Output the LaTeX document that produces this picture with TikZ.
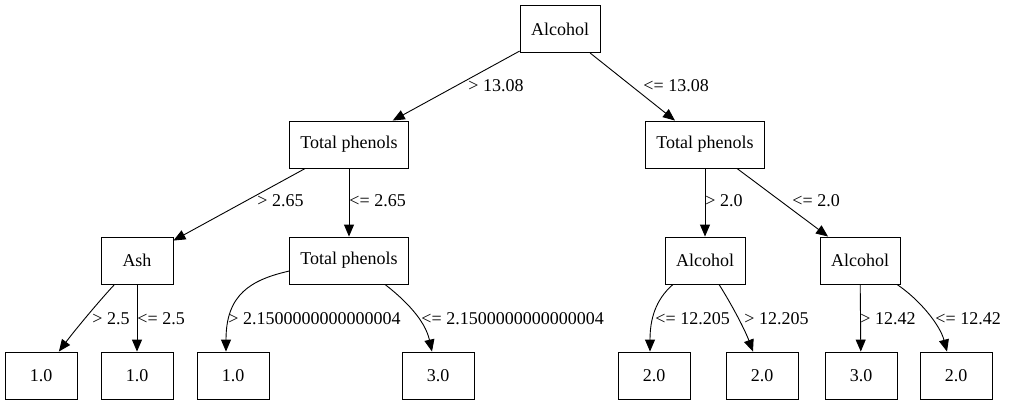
\documentclass[tikz,border=0pt]{standalone}
\usepackage{fontspec}
\setmainfont{Liberation Serif}
\usetikzlibrary{arrows.meta}
\begin{document}
\begin{tikzpicture}[x=1pt, y=-1pt, line width=0.9pt, font=\fontsize{18}{20}\selectfont,
    main/.style = {draw, rectangle, minimum width=72pt, minimum height=47pt, inner xsep=11pt},
    lbl/.style = {anchor=west, inner sep=0pt},
    >={Triangle[length=12pt, width=10pt]}]
    \useasboundingbox (0,0) rectangle (1011,407);
    \node[main] (1) at (560,29) {Alcohol};
    \node[main] (2) at (349,144.5) {Total phenols};
    \node[main] (3) at (705,144.5) {Total phenols};
    \node[main] (4) at (137,260.5) {Ash};
    \node[main] (5) at (349,260.5) {Total phenols};
    \node[main] (6) at (705,260.5) {Alcohol};
    \node[main] (7) at (860,260.5) {Alcohol};
    \node[main] (8) at (41,375.5) {1.0};
    \node[main] (9) at (137,375.5) {1.0};
    \node[main] (10) at (233,375.5) {1.0};
    \node[main] (11) at (438,375.5) {3.0};
    \node[main] (12) at (654,375.5) {2.0};
    \node[main] (13) at (762,375.5) {2.0};
    \node[main] (14) at (861,375.5) {3.0};
    \node[main] (15) at (956,375.5) {2.0};
    %Splits
    \draw[->] (1) -- (2);
    \draw[->] (1) -- (3);
    \draw[->] (2) -- (4);
    \draw[->] (2) -- (5);
    \draw[->] (3) -- (6);
    \draw[->] (3) -- (7);
    \draw[->] (4) .. controls (100,300) and (75,330) .. (8);
    \draw[->] (4) -- (9);
    \draw[->] (5.190) .. controls (250,280) and (226,295) .. ([xshift=-7pt]10.north);
    \draw[->] ([xshift=36pt]5.south) .. controls (405,300) and (425,320) .. ([xshift=-6pt]11.north);
    \draw[->] ([xshift=-32pt]6.south) .. controls (655,300) and (650,320) .. ([xshift=-4pt]12.north);
    \draw[->] ([xshift=14pt]6.south) .. controls (732,305) and (745,330) .. ([xshift=-9pt]13.north);
    \draw[->] (7) -- (14);
    \draw[->] ([xshift=37pt]7.south) .. controls (920,300) and (940,325) .. ([xshift=-9pt]15.north);
    %Labels
    \node[lbl] (l1) at (468,86) {> 13.08};
    \node[lbl] (l2) at (643,86) {<= 13.08};
    \node[lbl] (l3) at (257,201) {> 2.65};
    \node[lbl] (l4) at (349,201) {<= 2.65};
    \node[lbl] (l5) at (705,201) {> 2.0};
    \node[lbl] (l6) at (792,201) {<= 2.0};
    \node[lbl] (l7) at (92,319) {> 2.5};
    \node[lbl] (l8) at (137,319) {<= 2.5};
    \node[lbl] (l9) at (228,319) {> 2.1500000000000004};
    \node[lbl] (l10) at (421,319) {<= 2.1500000000000004};
    \node[lbl] (l11) at (655,319) {<= 12.205};
    \node[lbl] (l12) at (744,319) {> 12.205};
    \node[lbl] (l13) at (860,319) {> 12.42};
    \node[lbl] (l14) at (935,319) {<= 12.42};
\end{tikzpicture}
\end{document}
